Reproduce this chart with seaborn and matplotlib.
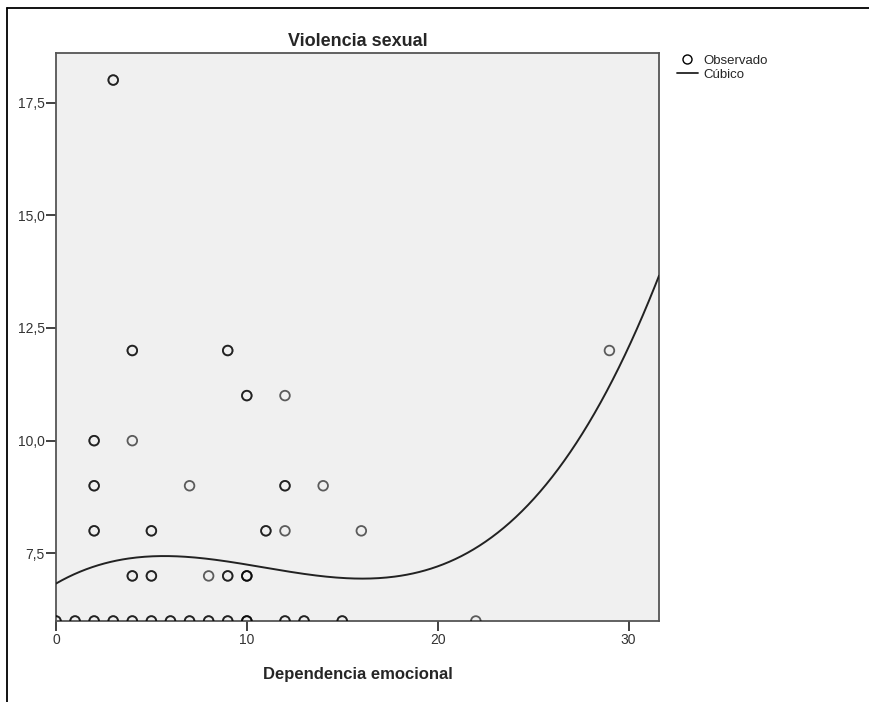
import numpy as np
import pandas as pd
import seaborn as sns
import matplotlib.pyplot as plt
from matplotlib.lines import Line2D
from matplotlib.ticker import FuncFormatter

# observed cases (repeated entries = overlapping cases, drawn darker)
dep_emocional = [0, 0, 1, 1, 2, 2, 3, 3, 4, 4, 5, 5, 6, 6, 7, 7, 8, 8, 9, 9, 10, 10, 10,
                 12, 12, 13, 13, 15, 15, 22,
                 4, 4, 5, 5, 8, 9, 9, 10, 10, 10,
                 2, 2, 5, 5, 11, 11, 12, 16,
                 2, 2, 7, 12, 12, 14,
                 2, 2, 4,
                 10, 10, 12,
                 4, 4, 9, 9, 29,
                 3, 3]
viol_sexual = [6, 6, 6, 6, 6, 6, 6, 6, 6, 6, 6, 6, 6, 6, 6, 6, 6, 6, 6, 6, 6, 6, 6,
               6, 6, 6, 6, 6, 6, 6,
               7, 7, 7, 7, 7, 7, 7, 7, 7, 7,
               8, 8, 8, 8, 8, 8, 8, 8,
               9, 9, 9, 9, 9, 9,
               10, 10, 10,
               11, 11, 11,
               12, 12, 12, 12, 12,
               18, 18]

# cubic fit coefficients (b0, b1, b2, b3)
cubic_coef = [6.83, 0.24404, -0.02912, 0.0008936]

x_min, x_max = 0, 31.6
y_min, y_max = 6, 18.6

obs = pd.DataFrame({'Dependencia emocional': dep_emocional, 'Violencia sexual': viol_sexual})
xs = np.linspace(x_min, x_max, 300)
fit = pd.DataFrame({'x': xs, 'y': np.polyval(cubic_coef[::-1], xs)})

sns.set_style('white')
plt.rcParams['font.family'] = ['Liberation Sans', 'DejaVu Sans']

fig = plt.figure(figsize=(8.69, 7.02), dpi=100)
ax = fig.add_axes([0.0644, 0.1154, 0.6940, 0.8091])
ax.set_facecolor('#f0f0f0')

sns.scatterplot(data=obs, x='Dependencia emocional', y='Violencia sexual', ax=ax,
                marker='o', s=48, facecolor='none', edgecolor='black', linewidth=1.3,
                alpha=0.62, zorder=3)
sns.lineplot(data=fit, x='x', y='y', ax=ax, color='#222222', linewidth=1.4, zorder=4)

ax.set_xlim(x_min, x_max)
ax.set_ylim(y_min, y_max)
ax.set_xticks([0, 10, 20, 30])
ax.set_yticks([7.5, 10, 12.5, 15, 17.5])
ax.yaxis.set_major_formatter(FuncFormatter(lambda v, p: ('%.1f' % v).replace('.', ',')))
ax.tick_params(axis='both', direction='out', length=7, width=1.3, color='#333333',
               labelsize=10, labelcolor='#333333', pad=1, bottom=True, left=True)
ax.tick_params(axis='x', pad=2)
for sp in ax.spines.values():
    sp.set_color('#555555')
    sp.set_linewidth(1.3)

ax.set_title('Violencia sexual', fontsize=13, fontweight='bold', pad=5)
ax.set_xlabel('Dependencia emocional', fontsize=12, fontweight='bold', labelpad=14)
ax.set_ylabel('')

handles = [Line2D([], [], marker='o', linestyle='none', markerfacecolor='none',
                  markeredgecolor='black', markersize=6.5, markeredgewidth=1.0),
           Line2D([], [], color='#222222', linewidth=1.3)]
fig.legend(handles, ['Observado', 'Cúbico'], loc='upper left',
           bbox_to_anchor=(0.768, 0.935), frameon=False, fontsize=9.5,
           handlelength=1.6, handletextpad=0.4, labelspacing=0.1, borderpad=0.2)

# outer frame (left and top)
fig.add_artist(Line2D([0.008, 0.008], [0.0, 0.989], color='black', linewidth=1.3,
                      transform=fig.transFigure))
fig.add_artist(Line2D([0.008, 1.0], [0.989, 0.989], color='black', linewidth=1.3,
                      transform=fig.transFigure))

plt.savefig('out.png', dpi=100, facecolor='white')
